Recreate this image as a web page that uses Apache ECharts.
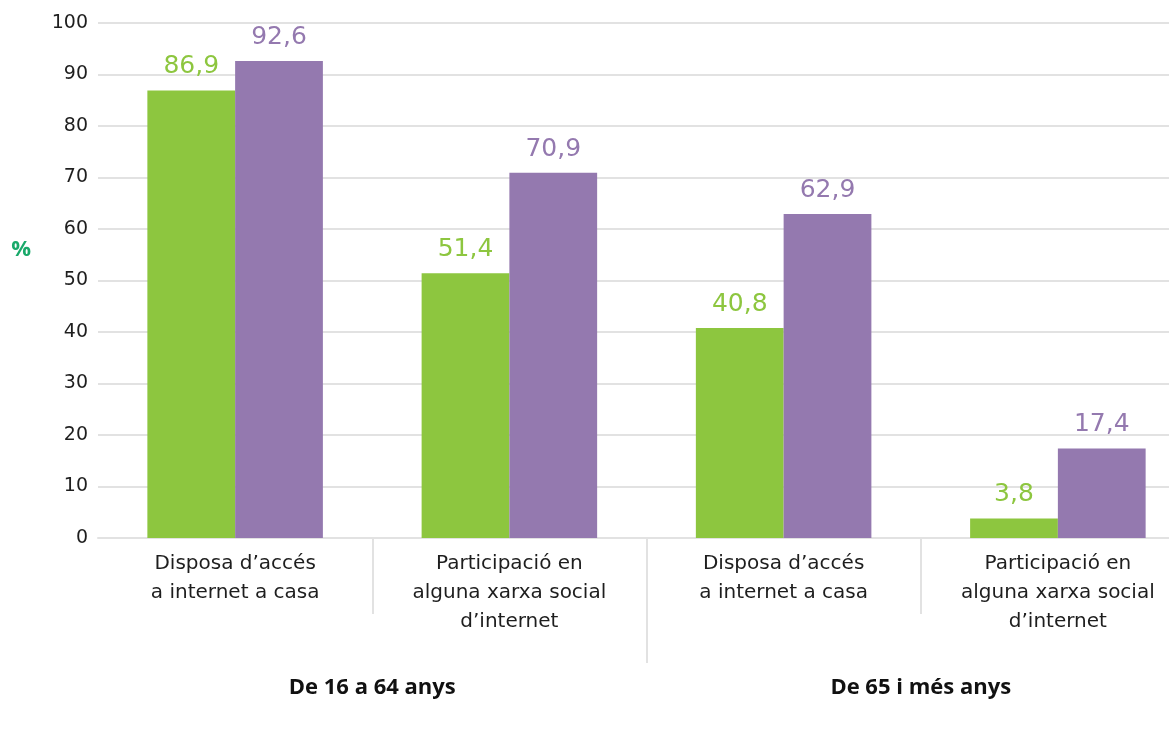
<!DOCTYPE html>
<html>
<head>
<meta charset="utf-8">
<script src="https://cdn.jsdelivr.net/npm/echarts@6/dist/echarts.min.js"></script>
<style>html,body{margin:0;padding:0;background:#fff;}#c{width:1169px;height:739px;}</style>
</head>
<body>
<div id="c"></div>
<script>
const categories = ["Disposa d’accés\na internet a casa", "Participació en\nalguna xarxa social\nd’internet", "Disposa d’accés\na internet a casa", "Participació en\nalguna xarxa social\nd’internet"];
const groups = ["De 16 a 64 anys", "De 65 i més anys"];
const seriesGreen = [86.9, 51.4, 40.8, 3.8];
const seriesPurple = [92.6, 70.9, 62.9, 17.4];
const yTicks = [0, 10, 20, 30, 40, 50, 60, 70, 80, 90, 100];

const FONT = 'DejaVu Sans';
const BOLDFONT = 'Open Sans';
const GREEN = '#8dc63f';
const PURPLE = '#9479af';
const fmt = p => String(p.value).replace('.', ',');

const chart = echarts.init(document.getElementById('c'), null, {renderer: 'canvas'});
chart.setOption({
  animation: false,
  textStyle: {fontFamily: FONT},
  grid: {left: 98, right: -26, top: 23, bottom: 201, containLabel: false, outerBoundsMode: 'none'},
  xAxis: [
    {
      type: 'category', data: categories, position: 'bottom',
      axisLine: {show: true, lineStyle: {color: '#e2e2e2', width: 2}},
      axisTick: {show: true, length: 76, interval: (i) => i === 1 || i === 3, lineStyle: {color: '#e2e2e2', width: 2}},
      axisLabel: {color: '#1e1e1e', fontSize: 20, lineHeight: 29, margin: 11, interval: 0, fontFamily: FONT}
    },
    {
      type: 'value', min: 0, max: 4, position: 'bottom', gridIndex: 0,
      axisLine: {show: false},
      splitLine: {show: false},
      axisTick: {show: true, length: 125, customValues: [2], lineStyle: {color: '#e2e2e2', width: 2}},
      axisLabel: {
        show: true, customValues: [1, 3], margin: 139,
        formatter: v => groups[(v - 1) / 2],
        color: '#111', fontSize: 22, fontWeight: 'bold', fontFamily: BOLDFONT
      }
    }
  ],
  yAxis: {
    type: 'value', min: yTicks[0], max: yTicks[yTicks.length - 1], interval: 10,
    name: '%', nameLocation: 'middle', nameRotate: 0, nameGap: 67,
    nameTextStyle: {color: '#19a96a', fontSize: 22, fontWeight: 'bold', fontFamily: BOLDFONT, verticalAlign: 'bottom', padding: [0, 0, 20, 0]},
    axisLine: {show: false}, axisTick: {show: false},
    splitLine: {lineStyle: {color: '#e2e2e2', width: 2}},
    axisLabel: {color: '#1e1e1e', fontSize: 19, margin: 10, fontFamily: FONT}
  },
  series: [
    {
      type: 'bar', data: seriesGreen, barGap: '0%', barCategoryGap: '36%',
      itemStyle: {color: GREEN},
      label: {show: true, position: 'top', distance: 11, color: GREEN, fontSize: 25, formatter: fmt, fontFamily: FONT}
    },
    {
      type: 'bar', data: seriesPurple,
      itemStyle: {color: PURPLE},
      label: {show: true, position: 'top', distance: 11, color: PURPLE, fontSize: 25, formatter: fmt, fontFamily: FONT}
    }
  ]
});
</script>
</body>
</html>
